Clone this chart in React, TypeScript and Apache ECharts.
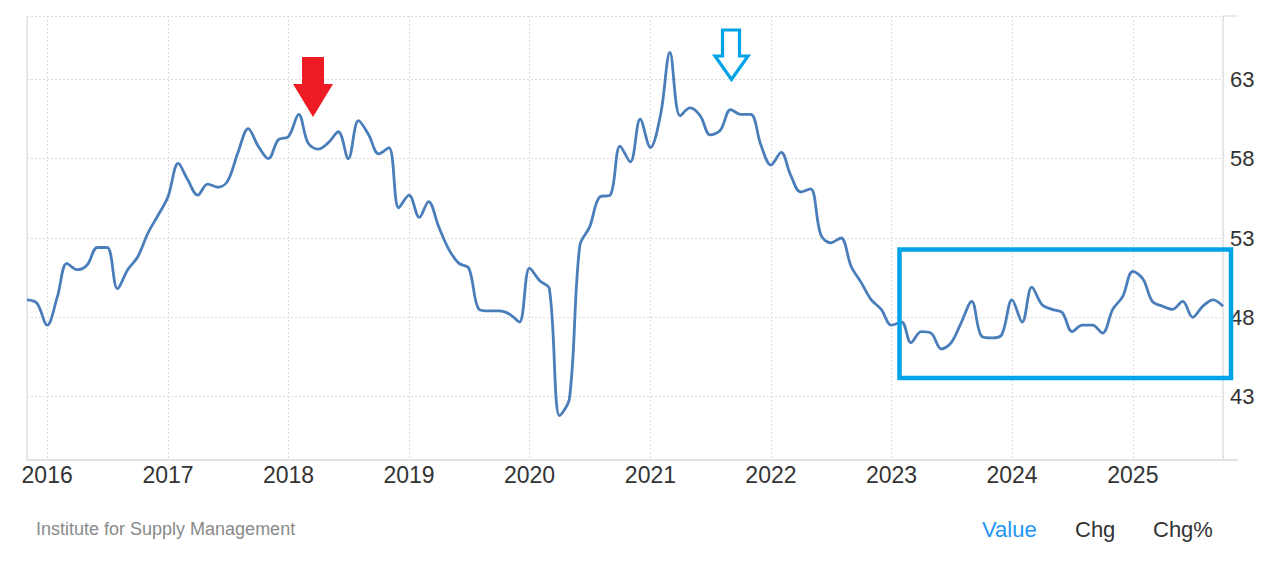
import React, { useEffect, useRef } from "react";
import * as echarts from "echarts";

// ISM Manufacturing PMI, monthly, Nov 2015 – Oct 2025
const startYear = 2015;
const startMonth = 10; // November (0-based)
const pmiValues: number[] = [
  49.1, 48.9,
  47.5, 49.3, 51.4, 51.0, 51.3, 52.4, 52.4, 49.8, 51.0, 51.8, 53.3, 54.4,
  55.6, 57.7, 56.7, 55.7, 56.4, 56.2, 56.6, 58.4, 59.9, 58.8, 58.0, 59.2,
  59.4, 60.8, 59.0, 58.6, 59.0, 59.7, 58.0, 60.4, 59.5, 58.3, 58.7, 54.9,
  55.7, 54.3, 55.3, 53.7, 52.3, 51.4, 51.1, 48.5, 48.4, 48.4, 48.2, 47.7,
  51.1, 50.3, 49.8, 41.8, 42.9, 52.5, 53.7, 55.6, 55.7, 58.8, 57.8, 60.5,
  58.7, 60.8, 64.7, 60.7, 61.2, 60.7, 59.5, 59.8, 61.1, 60.8, 60.8, 58.9,
  57.6, 58.4, 57.0, 55.9, 56.1, 53.2, 52.7, 53.0, 51.2, 50.2, 49.1, 48.5,
  47.5, 47.7, 46.4, 47.1, 47.0, 46.0, 46.4, 47.7, 49.0, 46.8, 46.7, 46.9,
  49.1, 47.7, 49.9, 48.8, 48.5, 48.3, 47.1, 47.5, 47.5, 47.0, 48.5, 49.3,
  50.9, 50.4, 49.0, 48.7, 48.5, 49.0, 48.0, 48.7, 49.1, 48.7,
];
const yTickValues = [43, 48, 53, 58, 63];
const yMin = 39;
const yMax = 67;
const sourceLabel = "Institute for Supply Management";
const tabLabels = ["Value", "Chg", "Chg%"];

const FONT = 'Arial, "Liberation Sans", sans-serif';
const YEAR_MS = 365 * 24 * 3600 * 1000;

export default function App() {
  const ref = useRef<HTMLDivElement>(null);

  useEffect(() => {
    if (!ref.current) return;
    const chart = echarts.init(ref.current, undefined, { renderer: "svg" });

    const seriesData = pmiValues.map((v, i) => {
      const d = new Date(startYear, startMonth + i, 1);
      return [d.getTime(), v];
    });
    const xMin = seriesData[0][0];
    const xMax = seriesData[seriesData.length - 1][0];

    const option: any = {
      animation: false,
      backgroundColor: "#ffffff",
      grid: { left: 27, right: 41, top: 16, bottom: 114, containLabel: false },
      xAxis: {
        type: "time",
        min: xMin,
        max: xMax,
        minInterval: YEAR_MS,
        maxInterval: YEAR_MS * 1.01,
        axisLine: { show: true, lineStyle: { color: "#e3e3e3", width: 2 } },
        axisTick: { show: false },
        splitLine: { show: true, lineStyle: { color: "#dcdcdc", type: [2, 2], width: 1 } },
        axisLabel: {
          color: "#333333",
          fontSize: 23,
          fontFamily: FONT,
          margin: 3,
          showMinLabel: false,
          showMaxLabel: false,
          formatter: (val: number) => {
            const d = new Date(val);
            return d.getMonth() === 0 ? String(d.getFullYear()) : "";
          },
        },
      },
      yAxis: [
        {
          type: "value",
          position: "right",
          min: yMin,
          max: yMax,
          axisLine: { show: true, lineStyle: { color: "#e3e3e3", width: 1.5 } },
          axisTick: { show: false, customValues: [...yTickValues, yMax] },
          splitLine: { show: true, lineStyle: { color: "#dcdcdc", type: [2, 2], width: 1 } },
          axisLabel: {
            customValues: yTickValues,
            color: "#333333",
            fontSize: 22,
            fontFamily: FONT,
            margin: 7,
          },
        },
        {
          type: "value",
          position: "left",
          min: yMin,
          max: yMax,
          axisLine: { show: true, lineStyle: { color: "#e3e3e3", width: 1.5 } },
          axisTick: { show: false },
          splitLine: { show: false },
          axisLabel: { show: false },
        },
      ],
      series: [
        {
          type: "line",
          yAxisIndex: 0,
          data: seriesData,
          smooth: 0.35,
          showSymbol: false,
          symbol: "none",
          lineStyle: { color: "#4a7ebb", width: 2.8 },
          z: 3,
        },
      ],
      graphic: [
        { type: "line", shape: { x1: 1223, y1: 16, x2: 1238, y2: 16 }, style: { stroke: "#e3e3e3", lineWidth: 1.5 } },
        { type: "line", shape: { x1: 1223, y1: 460, x2: 1238, y2: 460 }, style: { stroke: "#e3e3e3", lineWidth: 2 } },
        {
          type: "polygon",
          shape: {
            points: [
              [302, 57], [324, 57], [324, 84], [333, 84], [313, 117], [293, 84], [302, 84],
            ],
          },
          style: { fill: "#ed1c24" },
          z: 10,
        },
        {
          type: "polygon",
          shape: {
            points: [
              [722.5, 30], [739.5, 30], [739.5, 56], [748, 56], [731.5, 79.5], [715, 56], [722.5, 56],
            ],
          },
          style: { fill: "#ffffff", stroke: "#00a2e8", lineWidth: 3.2, lineJoin: "miter" },
          z: 10,
        },
        {
          type: "rect",
          shape: { x: 899.5, y: 249.5, width: 1231 - 899.5, height: 378 - 249.5 },
          style: { fill: "none", stroke: "#00a2e8", lineWidth: 4.5 },
          z: 10,
        },
        {
          type: "text",
          x: 36,
          y: 529,
          style: {
            text: sourceLabel,
            fill: "#8a8a8a",
            font: `18px ${FONT}`,
            verticalAlign: "middle",
            align: "left",
          },
        },
        {
          type: "text",
          x: 982,
          y: 529,
          style: { text: tabLabels[0], fill: "#2196f3", font: `22px ${FONT}`, verticalAlign: "middle", align: "left" },
        },
        {
          type: "text",
          x: 1075,
          y: 529,
          style: { text: tabLabels[1], fill: "#333333", font: `22px ${FONT}`, verticalAlign: "middle", align: "left" },
        },
        {
          type: "text",
          x: 1153,
          y: 529,
          style: { text: tabLabels[2], fill: "#333333", font: `22px ${FONT}`, verticalAlign: "middle", align: "left" },
        },
      ],
    };

    chart.setOption(option);
    return () => chart.dispose();
  }, []);

  return (
    <div
      ref={ref}
      style={{ position: "fixed", left: 0, top: 0, width: 1264, height: 574, background: "#fff" }}
    />
  );
}
